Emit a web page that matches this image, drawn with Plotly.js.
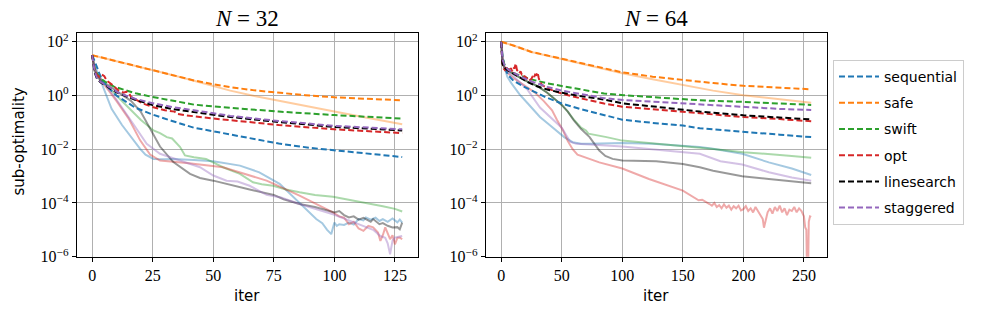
<!DOCTYPE html>
<html>
<head>
<meta charset="utf-8">
<script src="https://cdn.plot.ly/plotly-3.0.1.min.js"></script>
<style>html,body{margin:0;padding:0;background:#fff;}#chart{width:987px;height:315px;}</style>
</head>
<body>
<div id="chart"></div>
<script>
// Values are [iter, log10(sub-optimality)].
const methods = ["sequential", "safe", "swift", "opt", "linesearch", "staggered"];
const colors = ["#1f77b4", "#ff7f0e", "#2ca02c", "#d62728", "#000000", "#9467bd"];
const panelTitles = ["<i>N</i> = 32", "<i>N</i> = 64"];
const leftTicks = [0, 25, 50, 75, 100, 125];
const rightTicks = [0, 50, 100, 150, 200, 250];
const yTickVals = [1e-6, 1e-4, 1e-2, 1, 1e2];
const yTickText = ["10<sup>−6</sup>", "10<sup>−4</sup>", "10<sup>−2</sup>", "10<sup>0</sup>", "10<sup>2</sup>"];

// ---------- N = 32 (left), dashed ----------
const L_sequential_dash = [[0,1.5],[1,1.3],[2,1.05],[3,0.8],[4,0.6],[6,0.35],[10,0.0],[17.7,-0.45],[24.6,-0.7],[33,-0.95],[42,-1.2],[51,-1.35],[67,-1.63],[77,-1.79],[90,-1.95],[103,-2.06],[115,-2.18],[128,-2.29]];
const L_safe_dash = [[0,1.5],[6,1.37],[12,1.24],[18,1.1],[25,0.95],[33,0.76],[42,0.56],[50,0.42],[57,0.31],[67,0.19],[77,0.1],[88,0.01],[100,-0.07],[114,-0.13],[128,-0.18]];
const L_swift_dash = [[0,1.5],[1,1.0],[2,0.8],[3.5,0.63],[5.4,0.51],[9,0.33],[13.6,0.2],[18,0.08],[24.6,-0.05],[33,-0.2],[42,-0.34],[57,-0.46],[77,-0.6],[100,-0.73],[128,-0.86]];
const L_opt_dash = [[0,1.5],[1,0.95],[2,0.75],[3,0.7],[4,0.78],[5,0.72],[6,0.55],[8,0.42],[11,0.18],[13,0.1],[14,0.14],[15,0.12],[16,-0.05],[18,-0.15],[21,-0.3],[24.6,-0.42],[30,-0.55],[34,-0.6],[35,-0.68],[38,-0.73],[42,-0.78],[50,-0.86],[57,-0.92],[77,-1.1],[100,-1.26],[128,-1.4]];
const L_linesearch_dash = [[0,1.5],[1,0.85],[2,0.62],[3.5,0.48],[5.4,0.38],[8,0.22],[10,0.12],[13.8,-0.02],[17.7,-0.16],[24.6,-0.35],[33,-0.5],[42,-0.62],[57,-0.8],[77,-0.99],[100,-1.17],[128,-1.3]];
const L_staggered_dash = [[0,1.5],[1,0.9],[2,0.65],[3.5,0.5],[5.4,0.4],[8,0.25],[10.9,0.1],[13.8,0.0],[17.7,-0.12],[24.6,-0.28],[33,-0.43],[42,-0.55],[57,-0.76],[77,-0.95],[100,-1.13],[128,-1.26]];

// ---------- N = 32 (left), solid ----------
const L_sequential_solid = [[0,1.5],[1,1.1],[2,0.9],[4.7,0.26],[8,-0.5],[12.3,-1.1],[16,-1.55],[19.8,-1.99],[22,-2.2],[25.3,-2.36],[30,-2.37],[33.5,-2.36],[42,-2.4],[50,-2.45],[61,-2.61],[69,-2.86],[77.4,-3.29],[85.6,-4.0],[92.5,-4.6],[95,-4.75],[97,-5.0],[98.7,-5.16],[100,-4.73],[101,-4.85],[102,-4.79],[104,-4.82],[106,-4.73],[108,-4.8],[110,-4.6],[112,-4.65],[113,-4.54],[115,-4.62],[117,-4.55],[118.6,-4.67],[120,-4.6],[122,-4.7],[124,-4.58],[126,-4.72],[127,-4.62],[128,-4.73]];
const L_safe_solid = [[0,1.5],[6,1.37],[12,1.24],[18,1.1],[25,0.95],[33,0.76],[42,0.55],[50,0.36],[57,0.18],[67,-0.02],[77,-0.2],[88,-0.4],[100,-0.6],[114,-0.84],[128,-1.07]];
const L_swift_solid = [[0,1.5],[1,1.0],[2,0.8],[5,0.45],[10,0.0],[15,-0.45],[20,-0.9],[25.3,-1.3],[28,-1.4],[30.8,-1.55],[33,-1.6],[36.3,-1.92],[38.3,-2.23],[42,-2.3],[47,-2.36],[54,-2.67],[61,-2.92],[66.4,-3.23],[70,-3.3],[74.7,-3.36],[80,-3.5],[85.6,-3.6],[92,-3.7],[99.4,-3.77],[106,-3.88],[113,-3.98],[120,-4.12],[125,-4.22],[128,-4.32]];
const L_opt_solid = [[0,1.5],[1,1.0],[2,0.8],[5,0.4],[10,-0.2],[15,-0.85],[19.8,-1.67],[23.9,-2.2],[28,-2.42],[40,-2.52],[54,-2.67],[65,-2.98],[72,-3.17],[75,-3.29],[85.6,-3.73],[99.4,-4.35],[102,-4.5],[104,-4.55],[106,-4.79],[108,-4.7],[110,-4.95],[112,-5.04],[114,-4.85],[116,-4.91],[118,-5.1],[119,-5.41],[120,-5.2],[121,-4.91],[122,-5.1],[123,-5.35],[124,-5.2],[125,-5.54],[126,-5.3],[127,-5.29],[128,-5.35]];
const L_linesearch_solid = [[0,1.5],[1,0.9],[3,0.6],[7,0.35],[12,0.05],[16,-0.2],[20,-0.6],[24,-1.25],[28,-1.9],[33.5,-2.48],[40.4,-2.92],[44.5,-3.07],[50,-3.17],[65,-3.5],[75,-3.7],[79,-3.86],[85.6,-4.04],[92,-4.15],[98,-4.29],[100,-4.35],[102,-4.3],[104,-4.45],[106,-4.54],[108,-4.5],[110,-4.62],[112,-4.55],[113,-4.6],[115,-4.7],[116,-4.6],[118.6,-4.79],[120,-4.75],[122,-4.85],[124,-4.91],[126,-4.9],[127,-4.98],[128,-4.73]];
const L_staggered_solid = [[0,1.5],[1,1.0],[2,0.8],[5,0.45],[10,-0.15],[15,-0.8],[20,-1.5],[22.5,-1.8],[28,-2.17],[36,-2.42],[44.5,-2.67],[50,-2.98],[55.5,-3.17],[60,-3.2],[65,-3.36],[72,-3.7],[78,-3.8],[85.6,-4.04],[99.4,-4.42],[106,-4.65],[110,-4.8],[113,-4.91],[116,-5.0],[119,-5.23],[121,-5.3],[122,-5.5],[123,-5.91],[124,-5.4],[125,-5.29],[127,-5.25],[128,-5.23]];

// ---------- N = 64 (right), dashed ----------
const R_sequential_dash = [[0,2.0],[1,1.5],[3,1.0],[6,0.75],[10,0.55],[20,0.3],[36,-0.05],[50,-0.3],[65,-0.5],[85,-0.74],[100,-0.9],[125,-1.02],[150,-1.12],[164,-1.22],[200,-1.36],[230,-1.46],[256,-1.55]];
const R_safe_dash = [[0,2.0],[10,1.86],[25,1.62],[50,1.36],[85,1.0],[100,0.86],[125,0.7],[150,0.57],[175,0.46],[200,0.36],[230,0.28],[256,0.23]];
const R_swift_dash = [[0,2.0],[1,1.4],[3,1.1],[6,0.95],[13,0.78],[25,0.6],[38,0.45],[50,0.35],[65,0.22],[85,0.07],[101,0.01],[125,-0.07],[150,-0.14],[164,-0.18],[200,-0.24],[230,-0.3],[256,-0.35]];
const R_opt_dash = [[0,2.0],[1,1.2],[2,1.0],[3,0.95],[4,1.05],[5,0.9],[6,1.0],[7,0.88],[8,1.02],[9,0.9],[10,1.05],[11,1.0],[12,1.19],[13,0.95],[14,0.9],[15,0.82],[16,0.9],[17,0.78],[18,0.8],[19,0.72],[20,0.7],[21,0.62],[22,0.68],[23,0.6],[24,0.57],[25,0.62],[26,0.72],[27,0.65],[28,0.78],[29,0.76],[30,0.86],[31,0.65],[32,0.5],[34,0.38],[37,0.3],[42,0.2],[50,0.07],[65,-0.1],[85,-0.3],[100,-0.42],[125,-0.52],[150,-0.6],[164,-0.68],[200,-0.8],[230,-0.88],[256,-0.96]];
const R_linesearch_dash = [[0,2.0],[1,1.2],[2,1.05],[5,0.95],[10,0.82],[16,0.65],[22,0.5],[29,0.35],[38,0.22],[50,0.1],[65,-0.02],[85,-0.15],[101,-0.3],[130,-0.43],[150,-0.53],[164,-0.6],[200,-0.74],[230,-0.82],[256,-0.89]];
const R_staggered_dash = [[0,2.0],[1,1.35],[3,1.1],[6,0.95],[10,0.85],[16,0.7],[25,0.52],[38,0.32],[50,0.18],[65,0.05],[85,-0.1],[101,-0.17],[130,-0.25],[164,-0.32],[200,-0.44],[230,-0.5],[256,-0.54]];

// ---------- N = 64 (right), solid ----------
const R_sequential_solid = [[0,2.0],[1,1.5],[3,1.0],[5,0.7],[8.5,0.45],[15,0.05],[22,-0.3],[32,-0.8],[40,-1.1],[48,-1.4],[52,-1.55],[59,-1.74],[66,-1.8],[73,-1.8],[100,-1.77],[125,-1.8],[150,-1.86],[164,-1.92],[175,-1.98],[199,-2.17],[221,-2.49],[240,-2.72],[256,-2.96]];
const R_safe_solid = [[0,2.0],[10,1.86],[25,1.62],[50,1.36],[85,1.0],[100,0.83],[125,0.6],[150,0.38],[175,0.18],[200,0.01],[230,-0.15],[256,-0.27]];
const R_swift_solid = [[0,2.0],[1,1.2],[3,1.0],[6,0.9],[10,0.8],[20,0.55],[30,0.35],[38,0.1],[45,-0.15],[50,-0.35],[55,-0.6],[60,-0.9],[66,-1.2],[70,-1.3],[72,-1.42],[76,-1.45],[87,-1.55],[100,-1.68],[125,-1.78],[150,-1.88],[175,-1.99],[200,-2.11],[221,-2.17],[240,-2.25],[256,-2.32]];
const R_opt_solid = [[0,2.0],[2,1.1],[5,0.85],[10,0.65],[20,0.35],[28,0.1],[35,-0.2],[42,-0.55],[46,-0.9],[51,-1.3],[55,-1.7],[59,-2.0],[63,-2.2],[73,-2.36],[81,-2.49],[100,-2.72],[122,-3.11],[150,-3.54],[161,-3.86],[163,-3.9],[166,-3.88],[169,-3.95],[172,-4.04],[174,-4.1],[176,-4.0],[178,-4.15],[180,-4.08],[182,-4.2],[184,-4.05],[186,-4.18],[188,-4.1],[190,-4.25],[192,-4.12],[194,-4.2],[196,-4.1],[198,-4.28],[200,-4.23],[202,-4.12],[204,-4.3],[206,-4.2],[208,-4.35],[210,-4.15],[212,-4.3],[214,-4.4],[216,-4.6],[217,-4.92],[218,-4.7],[220,-4.35],[222,-4.2],[224,-4.4],[226,-4.15],[228,-4.3],[230,-4.1],[232,-4.35],[234,-4.2],[236,-4.45],[238,-4.25],[240,-4.3],[242,-4.15],[244,-4.35],[246,-4.2],[248,-4.3],[250,-4.5],[251,-4.9],[252,-5.0],[253,-8.0],[254,-4.7],[255,-4.5],[256,-4.52]];
const R_linesearch_solid = [[0,2.0],[1,1.2],[3,1.0],[6,0.9],[10,0.8],[20,0.55],[30,0.35],[38,0.1],[45,-0.15],[50,-0.35],[55,-0.6],[60,-0.93],[66,-1.25],[73,-1.55],[77,-1.8],[81,-2.05],[86,-2.25],[92,-2.36],[100,-2.42],[128,-2.45],[150,-2.55],[164,-2.67],[175,-2.8],[199,-3.01],[221,-3.11],[240,-3.2],[256,-3.27]];
const R_staggered_solid = [[0,2.0],[1,1.3],[3,1.0],[6,0.85],[10,0.72],[22,0.2],[32,-0.45],[40,-0.8],[50,-1.2],[54,-1.5],[57,-1.72],[62,-1.8],[73,-1.82],[100,-1.9],[150,-2.11],[164,-2.17],[181,-2.45],[199,-2.57],[221,-2.86],[240,-3.05],[256,-3.17]];

const panels = [
  {xa: "x", ya: "y", dash: [L_sequential_dash, L_safe_dash, L_swift_dash, L_opt_dash, L_linesearch_dash, L_staggered_dash],
   solid: [L_sequential_solid, L_safe_solid, L_swift_solid, L_opt_solid, L_linesearch_solid, L_staggered_solid]},
  {xa: "x2", ya: "y2", dash: [R_sequential_dash, R_safe_dash, R_swift_dash, R_opt_dash, R_linesearch_dash, R_staggered_dash],
   solid: [R_sequential_solid, R_safe_solid, R_swift_solid, R_opt_solid, R_linesearch_solid, R_staggered_solid]}
];

const traces = [];
panels.forEach((p, pi) => {
  p.solid.forEach((pts, i) => {
    traces.push({type: "scatter", mode: "lines", x: pts.map(d => d[0]), y: pts.map(d => Math.pow(10, d[1])),
      xaxis: p.xa, yaxis: p.ya, showlegend: false, hoverinfo: "skip", opacity: 0.4,
      line: {color: colors[i], width: 2}});
  });
});
panels.forEach((p, pi) => {
  p.dash.forEach((pts, i) => {
    traces.push({type: "scatter", mode: "lines", name: methods[i], legendgroup: methods[i],
      x: pts.map(d => d[0]), y: pts.map(d => Math.pow(10, d[1])),
      xaxis: p.xa, yaxis: p.ya, showlegend: pi === 0,
      line: {color: colors[i], width: 2, dash: "6px,3px"}});
  });
});

const W = 987, H = 315;
const tickFont = {family: "Liberation Serif, serif", size: 16, color: "#000"};
function xax(domain, range, ticks, anchor) {
  return {domain: domain, range: range, anchor: anchor, tickvals: ticks, ticktext: ticks.map(String),
    showgrid: true, gridcolor: "#b0b0b0", gridwidth: 1, zeroline: false,
    showline: true, linecolor: "#000", linewidth: 1, mirror: true,
    ticks: "outside", ticklen: 4, tickcolor: "#000", tickfont: tickFont};
}
function yax(anchor) {
  return {domain: [58.3 / H, 282.3 / H], type: "log", range: [-6, 2.336], anchor: anchor,
    tickvals: yTickVals, ticktext: yTickText, showticklabels: true,
    showgrid: true, gridcolor: "#b0b0b0", gridwidth: 1, zeroline: false,
    showline: true, linecolor: "#000", linewidth: 1, mirror: true,
    ticks: "outside", ticklen: 4, tickcolor: "#000", tickfont: tickFont};
}

const labelFont = {family: "DejaVu Sans, sans-serif", size: 15, color: "#000"};
const titleFont = {family: "Liberation Serif, serif", size: 23, color: "#000"};
const layout = {
  width: W, height: H, margin: {l: 0, r: 0, t: 0, b: 0},
  paper_bgcolor: "#fff", plot_bgcolor: "#fff",
  xaxis: xax([76.7 / W, 417.7 / W], [-6.4, 134.4], leftTicks, "y"),
  yaxis: yax("x"),
  xaxis2: xax([485.7 / W, 826.7 / W], [-12.8, 268.8], rightTicks, "y2"),
  yaxis2: yax("x2"),
  legend: {x: 833 / W, y: 1 - 60 / H, xanchor: "left", yanchor: "top",
    bgcolor: "#fff", bordercolor: "#cccccc", borderwidth: 1,
    font: {family: "DejaVu Sans, sans-serif", size: 14, color: "#000"},
    tracegroupgap: 5, itemwidth: 40},
  annotations: [
    {text: panelTitles[0], x: 247.2 / W, y: 1 - 18 / H, xref: "paper", yref: "paper", showarrow: false,
     xanchor: "center", yanchor: "middle", font: titleFont},
    {text: panelTitles[1], x: 656.2 / W, y: 1 - 18 / H, xref: "paper", yref: "paper", showarrow: false,
     xanchor: "center", yanchor: "middle", font: titleFont},
    {text: "iter", x: 247.2 / W, y: 1 - 296 / H, xref: "paper", yref: "paper", showarrow: false,
     xanchor: "center", yanchor: "middle", font: labelFont},
    {text: "iter", x: 656.2 / W, y: 1 - 296 / H, xref: "paper", yref: "paper", showarrow: false,
     xanchor: "center", yanchor: "middle", font: labelFont},
    {text: "sub-optimality", x: 18.5 / W, y: 1 - 142 / H, xref: "paper", yref: "paper", showarrow: false,
     xanchor: "center", yanchor: "middle", textangle: -90, font: labelFont}
  ]
};

Plotly.newPlot("chart", traces, layout, {staticPlot: true, displayModeBar: false});
</script>
</body>
</html>
